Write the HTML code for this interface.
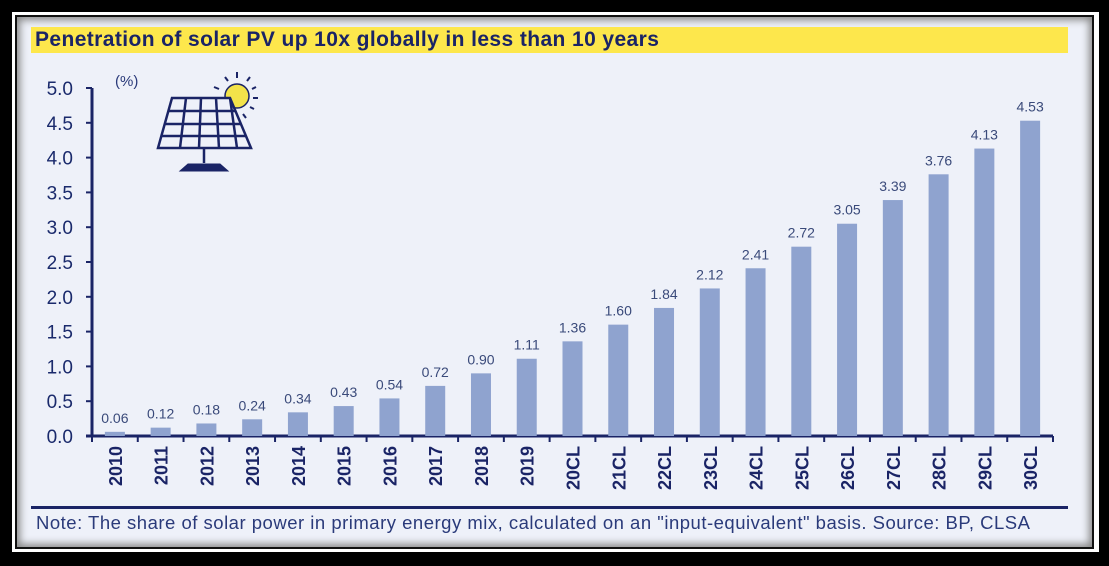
<!DOCTYPE html>
<html><head><meta charset="utf-8"><style>
body{margin:0;width:1109px;height:566px;background:#000;overflow:hidden;font-family:"Liberation Sans",sans-serif}
#white{position:absolute;left:12px;top:12px;width:1087px;height:540px;background:#fff}
#frame{position:absolute;left:15px;top:15px;width:1075px;height:530px;border:2px solid #111;background:#eef1f9;box-shadow:inset 0 0 8px 3px #888}
#title{position:absolute;left:31px;top:27px;width:1037px;height:26px;background:#fde74c;color:#1a2466;font-weight:bold;font-size:21px;line-height:26px;padding-left:4px;box-sizing:border-box;letter-spacing:0.4px;white-space:nowrap}
#note{position:absolute;left:36px;top:512px;font-size:18.5px;letter-spacing:0.5px;color:#2a3a7a;white-space:nowrap}
#rule{position:absolute;left:31px;top:506px;width:1037px;height:3px;background:#1a2466}
</style></head><body>
<div id="white"></div>
<div id="frame"></div>
<div id="title">Penetration of solar PV up 10x globally in less than 10 years</div>
<div id="rule"></div>
<div id="note">Note: The share of solar power in primary energy mix, calculated on an "input-equivalent" basis. Source: BP, CLSA</div>
<svg id="chart" width="1109" height="566" style="position:absolute;left:0;top:0">
<g fill="none" stroke="#1a2466" stroke-width="2.5">
<circle cx="237" cy="96" r="12" fill="#f3e34a" stroke="#1a2466" stroke-width="1.5"/>
<g stroke-width="2"><line x1="237" y1="72" x2="237" y2="78"/><line x1="225" y1="77" x2="228" y2="81"/><line x1="250" y1="77" x2="247" y2="81"/><line x1="214" y1="87" x2="219" y2="89"/><line x1="256" y1="87" x2="252" y2="89"/><line x1="258" y1="98" x2="253" y2="98"/><line x1="254" y1="109" x2="250" y2="107"/><line x1="246" y1="118" x2="243" y2="114"/></g>
<polygon points="172,98 230,98 251,148 158,148" fill="#eef1f9"/>
<line x1="169" y1="111" x2="236" y2="111"/><line x1="165" y1="124" x2="241" y2="124"/><line x1="162" y1="136" x2="246" y2="136"/>
<line x1="186" y1="98" x2="180" y2="148"/><line x1="201" y1="98" x2="199" y2="148"/><line x1="216" y1="98" x2="219" y2="148"/><line x1="230" y1="98" x2="237" y2="148"/>
<line x1="204" y1="148" x2="204" y2="163"/><polygon points="180,171 228,171 220,164 188,164" fill="#1a2466" stroke-width="1"/>
</g>
<text x="115" y="86" font-size="15" fill="#2a3a7a">(%)</text>
<g id="axes"></g><g id="bars"></g>
</svg>
<script>
const categories=["2010","2011","2012","2013","2014","2015","2016","2017","2018","2019","20CL","21CL","22CL","23CL","24CL","25CL","26CL","27CL","28CL","29CL","30CL"];
const values=[0.06,0.12,0.18,0.24,0.34,0.43,0.54,0.72,0.90,1.11,1.36,1.60,1.84,2.12,2.41,2.72,3.05,3.39,3.76,4.13,4.53];
const yTicks=[0,0.5,1,1.5,2,2.5,3,3.5,4,4.5,5];
const NS="http://www.w3.org/2000/svg";
const x0=92,x1=1053,yBase=436,yTop=88;
const y=v=>yBase-(v/5)*(yBase-yTop);
const step=(x1-x0)/categories.length;
const xc=i=>x0+step*(i+0.5);
function mk(t,a,p){const e=document.createElementNS(NS,t);for(const k in a)e.setAttribute(k,a[k]);p.appendChild(e);return e;}
const ax=document.getElementById('axes'),bg=document.getElementById('bars');
const ya=mk('line',{x1:x0,y1:y(5),x2:x0,y2:yBase,stroke:'#1a2466','stroke-width':3},ax);


const xa=mk('line',{x1:x0-6,y1:yBase,x2:x1,y2:yBase,stroke:'#1a2466','stroke-width':3},ax);


yTicks.forEach(v=>{
 mk('line',{x1:x0-6,y1:y(v),x2:x0,y2:y(v),stroke:'#1a2466','stroke-width':2},ax);
 const t=mk('text',{x:73,y:y(v)+7,'text-anchor':'end','font-size':19,fill:'#1a2a6c'},ax);
 t.textContent=v.toFixed(1);
 
 
});
for(let i=0;i<=categories.length;i++){mk('line',{x1:x0+step*i,y1:yBase,x2:x0+step*i,y2:yBase+6,stroke:'#1a2466','stroke-width':2},ax);}
categories.forEach((c,i)=>{
 const v=values[i];
 const r=mk('rect',{x:xc(i)-10,y:y(v),width:20,height:yBase-y(v),fill:'#8fa3cf'},bg);
 
 
 const l=mk('text',{x:xc(i),y:y(v)-9,'text-anchor':'middle','font-size':14,fill:'#3a4a7a'},bg);
 l.textContent=v.toFixed(2);
 
 
 const t=mk('text',{x:0,y:0,'text-anchor':'end','font-size':18,'font-weight':'bold',fill:'#1a2466',transform:`translate(${xc(i)+7},${yBase+10}) rotate(-90)`},ax);
 t.textContent=c;
 
 
});
</script>
</body></html>
